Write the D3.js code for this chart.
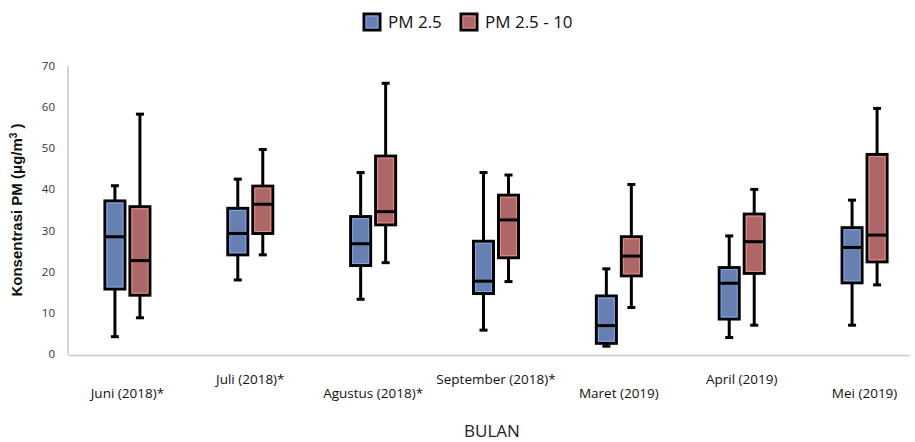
<!DOCTYPE html>
<html>
<head>
<meta charset="utf-8">
<script src="https://cdn.jsdelivr.net/npm/d3@7"></script>
<style>
  body { margin: 0; background: #fff; }
  svg { display: block; }
</style>
</head>
<body>
<div id="chart"></div>
<script>
// ---- data ----
const months = ["Juni (2018)*", "Juli (2018)*", "Agustus (2018)*", "September (2018)*",
                "Maret (2019)", "April (2019)", "Mei (2019)"];
const series = ["PM 2.5", "PM 2.5 - 10"];
// [min, q1, median, q3, max]
const pm25 = [
  [4.2, 15.8, 28.5, 37.2, 40.9],
  [18.0, 24.1, 29.3, 35.4, 42.5],
  [13.3, 21.5, 26.8, 33.4, 44.1],
  [5.8, 14.7, 17.7, 27.4, 44.1],
  [1.9, 2.6, 6.9, 14.1, 20.7],
  [4.0, 8.5, 17.2, 21.0, 28.7],
  [7.0, 17.3, 25.9, 30.7, 37.4]
];
const pm10 = [
  [8.8, 14.3, 22.7, 35.8, 58.3],
  [24.1, 29.3, 36.4, 40.8, 49.7],
  [22.2, 31.4, 34.6, 48.1, 65.8],
  [17.6, 23.4, 32.6, 38.6, 43.5],
  [11.3, 19.0, 23.8, 28.5, 41.2],
  [7.0, 19.6, 27.3, 34.0, 40.0],
  [16.8, 22.4, 28.9, 48.5, 59.7]
];
const yTicks = [0, 10, 20, 30, 40, 50, 60, 70];
const fills = ["#6681b1", "#ad6767"];
const glows = ["#84a4ea", "#ec8c8c"];

const width = 915, height = 442;
const svg = d3.select('#chart').append('svg')
  .attr('width', width).attr('height', height);

const y = d3.scaleLinear().domain([0, 70]).range([354, 66]);
const x0 = d3.scaleBand().domain(months).range([66, 926]);
const bw = x0.bandwidth();
const x1 = d3.scaleBand().domain(series).range([bw / 2 - 25, bw / 2 + 25]);

// axes
svg.append('line')
  .attr('x1', 68).attr('x2', 68)
  .attr('y1', y(70)).attr('y2', y(0))
  .attr('stroke', '#a6a6a6').attr('stroke-width', 1);
svg.append('line')
  .attr('x1', 68).attr('x2', 910)
  .attr('y1', y(0) + 1.5).attr('y2', y(0) + 1.5)
  .attr('stroke', '#c8c8c8').attr('stroke-width', 1.5);

svg.append('g').selectAll('text')
  .data(yTicks).enter().append('text')
    .attr('x', 55).attr('y', d => y(d))
    .attr('dy', '0.35em')
    .attr('text-anchor', 'end')
    .attr('fill', '#333')
    .style('font', '11.5px "Open Sans", sans-serif')
    .text(d => d);

// y title
const yt = svg.append('text')
  .attr('transform', `translate(22,${(y(0) + y(70)) / 2}) rotate(-90)`)
  .attr('text-anchor', 'middle')
  .attr('fill', '#111')
  .style('font', 'bold 15px "Liberation Sans", Arial, sans-serif');
yt.append('tspan').text('Konsentrasi PM (μg/m');
yt.append('tspan').attr('baseline-shift', 'super').style('font-size', '10px').text('3');
yt.append('tspan').text(' )');

// x labels (alternating heights)
svg.append('g').selectAll('text')
  .data(months).enter().append('text')
    .attr('x', d => x0(d) + bw / 2)
    .attr('y', (d, i) => i % 2 === 0 ? 397.5 : 384)
    .attr('text-anchor', 'middle')
    .attr('fill', '#111')
    .style('font', '13.5px "Open Sans", sans-serif')
    .text(d => d);

svg.append('text')
  .attr('x', 492).attr('y', 437)
  .attr('text-anchor', 'middle')
  .attr('fill', '#222')
  .style('font', '17px "Open Sans", sans-serif')
  .text('BULAN');

// boxes
const rows = [];
months.forEach((m, i) => {
  [pm25, pm10].forEach((arr, s) => {
    const [mn, q1, md, q3, mx] = arr[i];
    rows.push({month: m, s, mn, q1, md, q3, mx});
  });
});

const boxW = 20, capW = 8;
const node = svg.append('g').selectAll('g')
  .data(rows).enter().append('g')
    .attr('transform', d => `translate(${x0(d.month) + x1(series[d.s]) + x1.bandwidth() / 2},0)`);

node.append('line')
  .attr('x1', 0).attr('x2', 0)
  .attr('y1', d => y(d.mx)).attr('y2', d => y(d.mn))
  .attr('stroke', '#000').attr('stroke-width', 3);
node.append('line')
  .attr('x1', -capW / 2).attr('x2', capW / 2)
  .attr('y1', d => y(d.mx)).attr('y2', d => y(d.mx))
  .attr('stroke', '#000').attr('stroke-width', 3);
node.append('line')
  .attr('x1', -capW / 2).attr('x2', capW / 2)
  .attr('y1', d => y(d.mn)).attr('y2', d => y(d.mn))
  .attr('stroke', '#000').attr('stroke-width', 3);

node.append('rect')
  .attr('x', -boxW / 2).attr('width', boxW)
  .attr('y', d => y(d.q3)).attr('height', d => y(d.q1) - y(d.q3))
  .attr('fill', d => fills[d.s])
  .attr('stroke', '#000').attr('stroke-width', 3);
// lighter inner edge
node.append('rect')
  .attr('x', -boxW / 2 + 2).attr('width', boxW - 4)
  .attr('y', d => y(d.q3) + 2).attr('height', d => Math.max(0, y(d.q1) - y(d.q3) - 4))
  .attr('fill', 'none')
  .attr('stroke', d => glows[d.s]).attr('stroke-width', 1);
node.append('line')
  .attr('x1', -boxW / 2).attr('x2', boxW / 2)
  .attr('y1', d => y(d.md)).attr('y2', d => y(d.md))
  .attr('stroke', '#000').attr('stroke-width', 3);

// legend
const legend = svg.append('g').selectAll('g')
  .data(series).enter().append('g')
    .attr('transform', (d, i) => `translate(${i === 0 ? 364 : 461},14)`);
legend.append('rect')
  .attr('width', 16).attr('height', 16)
  .attr('fill', (d, i) => fills[i])
  .attr('stroke', '#000').attr('stroke-width', 3);
legend.append('rect')
  .attr('x', 2).attr('y', 2).attr('width', 12).attr('height', 12)
  .attr('fill', 'none')
  .attr('stroke', (d, i) => glows[i]).attr('stroke-width', 1);
legend.append('text')
  .attr('x', 24).attr('y', 8)
  .attr('dy', '0.35em')
  .attr('fill', '#111')
  .style('font', '17px "Open Sans", sans-serif')
  .text(d => d);
</script>
</body>
</html>
